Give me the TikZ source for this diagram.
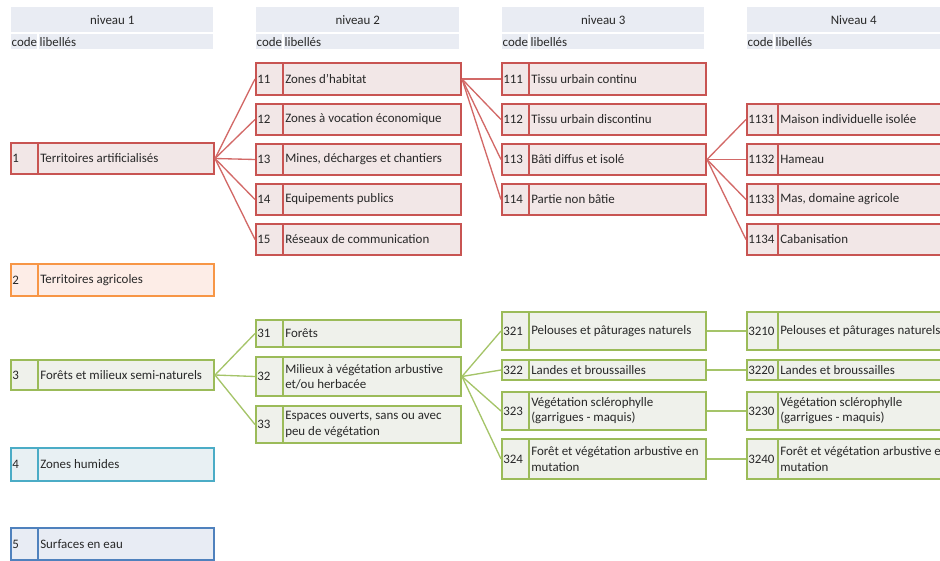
\documentclass[tikz,border=0pt]{standalone}
\usepackage{fontspec}
\setmainfont{Carlito}
\definecolor{hdrF}{RGB}{233,236,243}
\definecolor{redB}{RGB}{200,84,82}
\definecolor{redF}{RGB}{242,231,231}
\definecolor{redL}{RGB}{210,105,103}
\definecolor{orgB}{RGB}{247,150,70}
\definecolor{orgF}{RGB}{253,237,231}
\definecolor{grnB}{RGB}{155,187,89}
\definecolor{grnF}{RGB}{239,241,235}
\definecolor{grnL}{RGB}{165,196,105}
\definecolor{cyaB}{RGB}{75,172,198}
\definecolor{cyaF}{RGB}{232,240,243}
\definecolor{bluB}{RGB}{79,129,189}
\definecolor{bluF}{RGB}{232,236,244}
\definecolor{txt}{RGB}{40,40,40}
\tikzset{
  every node/.style={font=\fontsize{9.7}{11.4}\selectfont, text=txt},
  cellbox/.style={line width=1.5pt, inner sep=0pt, anchor=north west},
  redc/.style={draw=redB, fill=redF},
  orgc/.style={draw=orgB, fill=orgF},
  grnc/.style={draw=grnB, fill=grnF},
  cyac/.style={draw=cyaB, fill=cyaF},
  bluc/.style={draw=bluB, fill=bluF},
  hdrbox/.style={fill=hdrF, inner sep=0pt, anchor=north west},
  redlink/.style={draw=redL, line width=1pt},
  grnlink/.style={draw=grnL, line width=1pt},
}
% name, style, x1, y1, x2, y2, divider offset, code, label
\newcommand\cbox[9]{%
  \node[cellbox,#2,minimum width={(#5-#3-1)*0.75pt},minimum height={(#6-#4-1)*0.75pt}] (#1) at (#3,#4) {};
  \draw[#2,fill=none,line width=1.5pt] ([xshift=#7*0.75pt]#1.north west) -- ([xshift=#7*0.75pt]#1.south west);
  \node[anchor=west,inner sep=0pt] (#1-c) at ([xshift=1.5pt]#1.west) {#8};
  \node[anchor=west,inner sep=0pt,align=left] (#1-l) at ([xshift=(#7+2)*0.75pt]#1.west) {#9};
}
% name, xL, xR, title
\newcommand\hdr[4]{%
  \node[hdrbox,minimum width={(#3-#2)*0.75pt},minimum height={25*0.75pt}] (#1) at (#2,7) {#4};
  \node[hdrbox,minimum width={26*0.75pt},minimum height={15*0.75pt}] (#1-cc) at (#2,34) {};
  \node[hdrbox,minimum width={(#3-#2-28)*0.75pt},minimum height={15*0.75pt}] (#1-lc) at (#2+28,34) {};
  \node[anchor=west,inner sep=0pt] (#1-ct) at ([xshift=0.3pt]#1-cc.west) {code};
  \node[anchor=west,inner sep=0pt] (#1-lt) at ([xshift=0.3pt]#1-lc.west) {libellés};
}
\begin{document}
\begin{tikzpicture}[x=0.75pt,y=-0.75pt]
\useasboundingbox (0,0) rectangle (940,561);
\hdr{h1}{11}{213}{niveau 1}
\hdr{h2}{256}{459}{niveau 2}
\hdr{h3}{502}{704}{niveau 3}
\hdr{h4}{747}{960}{Niveau 4}

% level 1
\cbox{b1}{redc}{10}{142}{214}{174}{28}{1}{Territoires artificialisés}
\cbox{b2}{orgc}{10}{263}{214}{296}{28}{2}{Territoires agricoles}
\cbox{b3}{grnc}{10}{359}{214}{390}{28}{3}{Forêts et milieux semi-naturels}
\cbox{b4}{cyac}{10}{447}{214}{481}{28}{4}{Zones humides}
\cbox{b5}{bluc}{10}{527}{214}{560}{28}{5}{Surfaces en eau}

% level 2
\cbox{b11}{redc}{255}{62}{461}{95}{28}{11}{Zones d’habitat}
\cbox{b12}{redc}{255}{103}{461}{135}{28}{12}{Zones à vocation économique}
\cbox{b13}{redc}{255}{143}{461}{175}{28}{13}{Mines, décharges et chantiers}
\cbox{b14}{redc}{255}{183}{461}{215}{28}{14}{Equipements publics}
\cbox{b15}{redc}{255}{223}{461}{255}{28}{15}{Réseaux de communication}
\cbox{b31}{grnc}{255}{319}{461}{347}{28}{31}{Forêts}
\cbox{b32}{grnc}{255}{356}{461}{396}{28}{32}{Milieux à végétation arbustive\\et/ou herbacée}
\cbox{b33}{grnc}{255}{405}{461}{443}{28}{33}{Espaces ouverts, sans ou avec\\peu de végétation}

% level 3
\cbox{b111}{redc}{501}{62}{706}{95}{28}{111}{Tissu urbain continu}
\cbox{b112}{redc}{501}{103}{706}{135}{28}{112}{Tissu urbain discontinu}
\cbox{b113}{redc}{501}{143}{706}{175}{28}{113}{Bâti diffus et isolé}
\cbox{b114}{redc}{501}{183}{706}{215}{28}{114}{Partie non bâtie}
\cbox{b321}{grnc}{501}{311}{706}{350}{28}{321}{Pelouses et pâturages naturels}
\cbox{b322}{grnc}{501}{359}{706}{380}{28}{322}{Landes et broussailles}
\cbox{b323}{grnc}{501}{391}{706}{430}{28}{323}{Végétation sclérophylle\\(garrigues - maquis)}
\cbox{b324}{grnc}{501}{438}{706}{479}{28}{324}{Forêt et végétation arbustive en\\mutation}

% level 4
\cbox{b1131}{redc}{746}{103}{965}{135}{32}{1131}{Maison individuelle isolée}
\cbox{b1132}{redc}{746}{143}{965}{175}{32}{1132}{Hameau}
\cbox{b1133}{redc}{746}{183}{965}{215}{32}{1133}{Mas, domaine agricole}
\cbox{b1134}{redc}{746}{223}{965}{255}{32}{1134}{Cabanisation}
\cbox{b3210}{grnc}{746}{311}{965}{350}{32}{3210}{Pelouses et pâturages naturels}
\cbox{b3220}{grnc}{746}{359}{965}{380}{32}{3220}{Landes et broussailles}
\cbox{b3230}{grnc}{746}{391}{965}{430}{32}{3230}{Végétation sclérophylle\\(garrigues - maquis)}
\cbox{b3240}{grnc}{746}{438}{965}{479}{32}{3240}{Forêt et végétation arbustive en\\mutation}

% connectors
\foreach \t in {b11,b12,b13,b14,b15} \draw[redlink] (b1.east) -- (\t.west);
\foreach \t in {b111,b112,b113,b114} \draw[redlink] (b11.east) -- (\t.west);
\foreach \t in {b1131,b1132,b1133,b1134} \draw[redlink] (b113.east) -- (\t.west);
\foreach \t in {b31,b32,b33} \draw[grnlink] (b3.east) -- (\t.west);
\foreach \t in {b321,b322,b323,b324} \draw[grnlink] (b32.east) -- (\t.west);
\draw[grnlink] (b321.east) -- (b3210.west);
\draw[grnlink] (b322.east) -- (b3220.west);
\draw[grnlink] (b323.east) -- (b3230.west);
\draw[grnlink] (b324.east) -- (b3240.west);
\end{tikzpicture}
\end{document}
